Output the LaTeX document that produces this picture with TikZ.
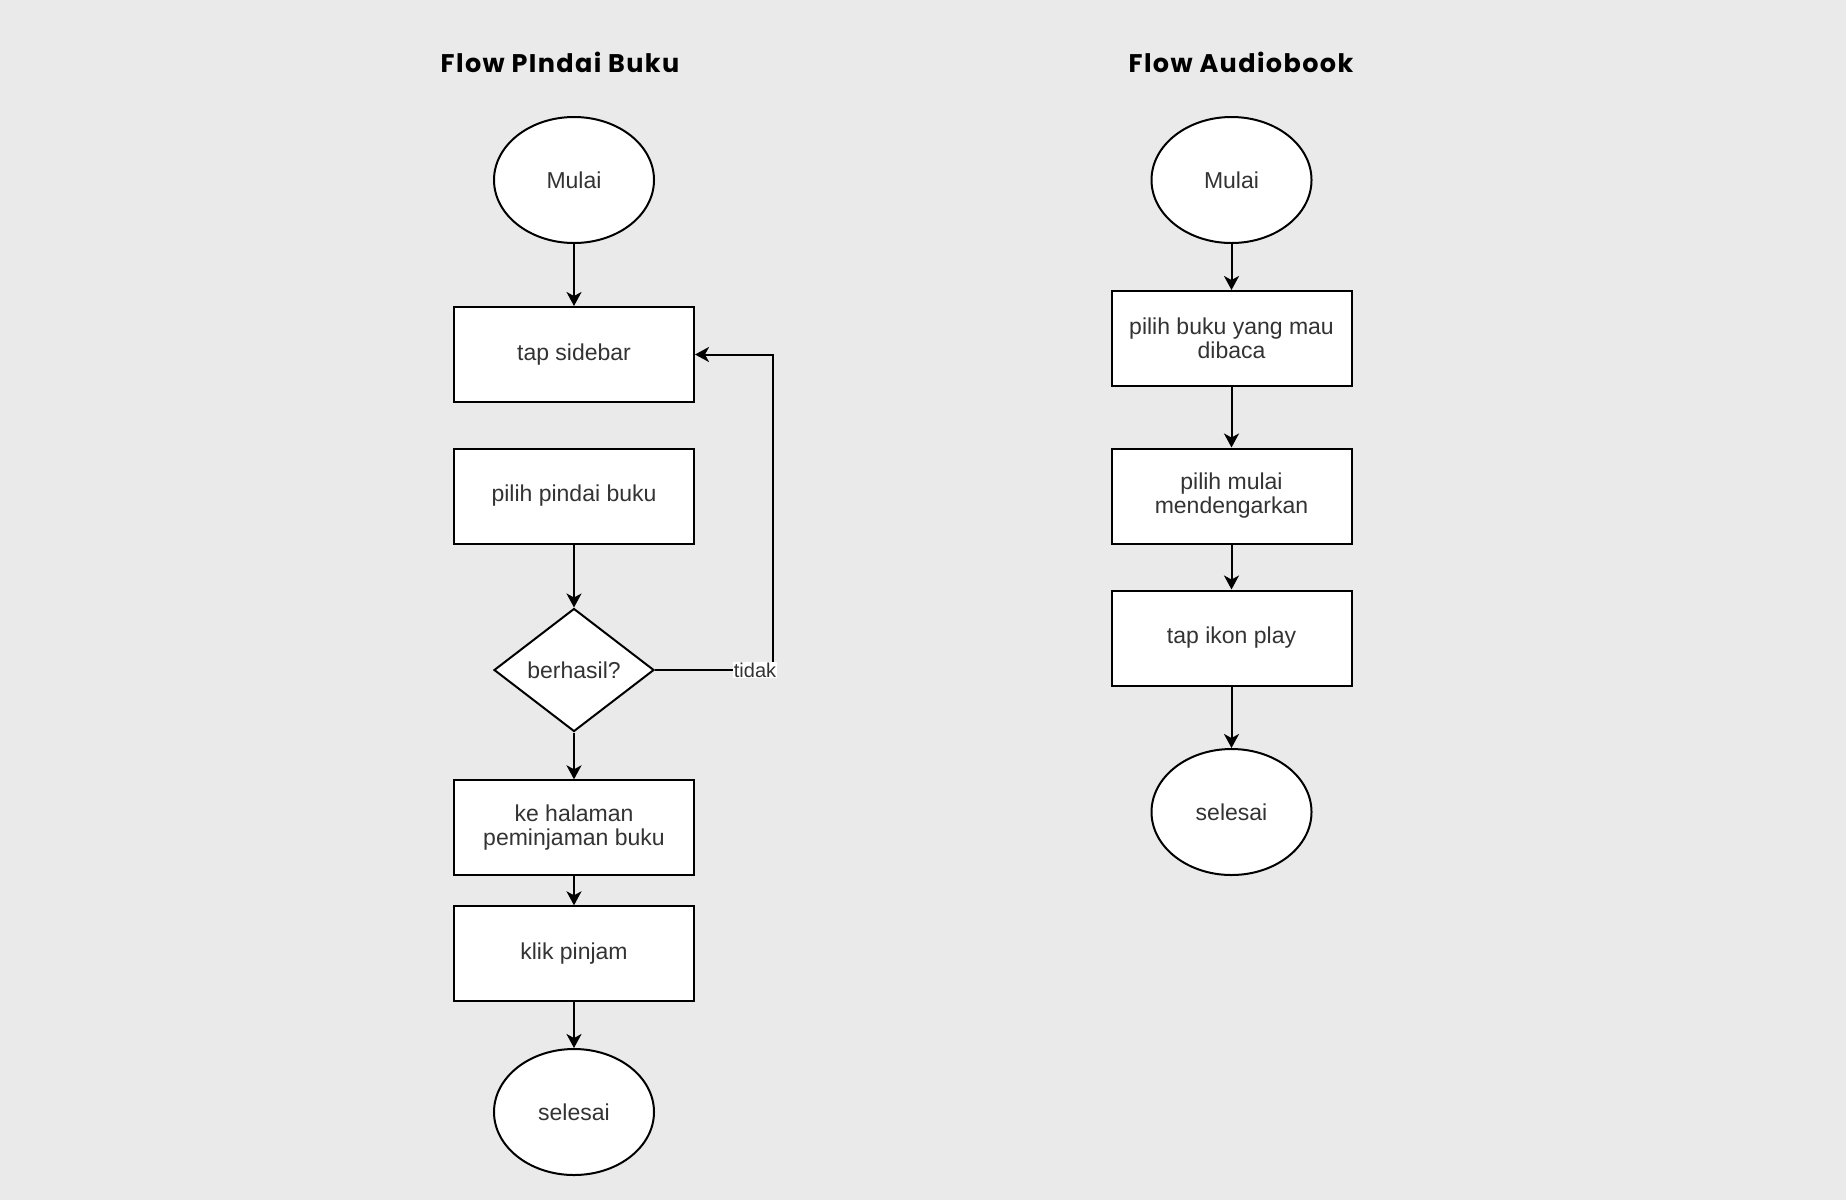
\documentclass[tikz,border=0pt]{standalone}
\usepackage{fontspec}
\setmainfont{Liberation Sans}
\newfontfamily\titlefont[LetterSpace=5.5]{Poppins}
\usetikzlibrary{shapes.geometric,arrows.meta}
\definecolor{bgc}{RGB}{234,234,234}
\definecolor{txt}{RGB}{51,51,51}
\tikzset{
  x=1pt, y=-1pt,
  base/.style={draw=black, line width=2pt, fill=white, inner sep=0pt, text=txt,
    font=\fontsize{23}{24}\selectfont, align=center},
  procbox/.style={base, rectangle, minimum width=240pt, minimum height=95pt},
  termin/.style={base, ellipse, minimum width=160pt, minimum height=126pt},
  decide/.style={base, diamond, minimum width=160pt, minimum height=123pt, aspect=1.3},
  ttl/.style={font=\titlefont\bfseries\fontsize{25.5}{28}\selectfont, text=black},
  conn/.style={line width=2pt, -{Stealth[length=14pt,width=15pt,inset=4pt]}},
  lbl/.style={fill=white, inner sep=1pt, text=txt, font=\fontsize{20}{22}\selectfont}
}
\begin{document}
\begin{tikzpicture}
\fill[bgc] (0,0) rectangle (1846,1200);
\useasboundingbox (0,0) rectangle (1846,1200);

% titles
\node[ttl] (t1) at (560,62) {Flow PIndai Buku};
\node[ttl] (t2) at (1241,62) {Flow Audiobook};

% left flow
\node[termin] (m1) at (574,180) {Mulai};
\node[procbox] (s1) at (574,354.5) {tap sidebar};
\node[procbox] (p1) at (574,496) {pilih pindai buku};
\node[decide] (d1) at (574,670) {berhasil?};
\node[procbox] (h1) at (574,827.8) {ke halaman\\peminjaman buku};
\node[procbox] (k1) at (574,953.8) {klik pinjam};
\node[termin] (e1) at (574,1112) {selesai};
\coordinate (c1) at (773,670);
\coordinate (c2) at (773,354.5);

\draw[conn] (m1) -- (s1);
\draw[conn] (p1) -- (d1);
\draw[conn] (d1) -- (h1);
\draw[conn] (h1) -- (k1);
\draw[conn] (k1) -- (e1);
\draw[conn] (d1.east) -- (c1) -- (c2) -- (s1.east);
\node[lbl] (lt) at (755,670) {tidak};

% right flow
\node[termin] (m2) at (1231.5,180) {Mulai};
\node[procbox] (b2) at (1231.5,338.5) {pilih buku yang mau\\dibaca};
\node[procbox] (l2) at (1231.5,496) {pilih mulai\\mendengarkan};
\node[procbox] (i2) at (1231.5,638) {tap ikon play};
\node[termin] (e2) at (1231.5,812) {selesai};

\draw[conn] (m2) -- (b2);
\draw[conn] (b2) -- (l2);
\draw[conn] (l2) -- (i2);
\draw[conn] (i2) -- (e2);
\end{tikzpicture}
\end{document}
